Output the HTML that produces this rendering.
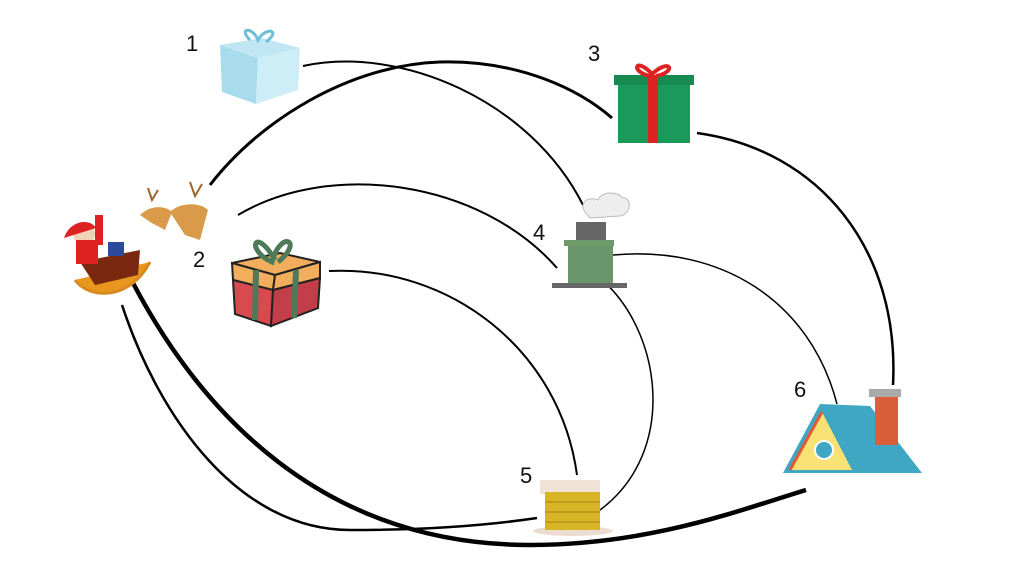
<!DOCTYPE html>
<html><head><meta charset="utf-8"><style>
html,body{margin:0;padding:0;background:#fff;}
svg{display:block;}
text{font-family:"Liberation Sans",sans-serif;font-size:22px;fill:#111;}
</style></head><body>
<svg width="1024" height="576" viewBox="0 0 1024 576" xmlns="http://www.w3.org/2000/svg">
<g fill="none" stroke="#000" stroke-linecap="butt">
<path d="M303,66 C400,45 530,100 583,205" stroke-width="2"/>
<path d="M210,185 C260,120 350,65 440,62 C520,60 580,90 612,118" stroke-width="3"/>
<path d="M697,133 C820,150 900,250 893,385" stroke-width="2.5"/>
<path d="M238,215 C330,160 480,180 557,268" stroke-width="2"/>
<path d="M329,271 C450,265 560,350 577,475" stroke-width="2"/>
<path d="M613,255 C720,245 810,300 837,404" stroke-width="1.5"/>
<path d="M602,280 C660,330 680,450 600,510" stroke-width="1.5"/>
<path d="M122,305 C160,420 240,530 350,530 C450,530 510,522 537,518" stroke-width="2.5"/>
<path d="M133,283 C200,410 320,545 530,545 C650,545 740,510 806,490" stroke-width="4.5"/>
</g>
<text x="186" y="51">1</text>
<text x="193" y="267">2</text>
<text x="588" y="61">3</text>
<text x="533" y="240">4</text>
<text x="520" y="483">5</text>
<text x="794" y="397">6</text>
<!-- gift 1 -->
<g>
<polygon points="220,45 262,38 300,48 258,58" fill="#bfe6f2"/>
<polygon points="220,45 258,58 256,104 222,92" fill="#a8dcec"/>
<polygon points="258,58 300,48 298,90 256,104" fill="#cdeef7"/>
<path d="M250,40 C238,28 252,26 258,40 C266,26 282,30 266,42" fill="none" stroke="#6bbfd8" stroke-width="3"/>
</g>
<!-- gift 3 -->
<g>
<rect x="614" y="75" width="80" height="10" fill="#178a4f"/>
<rect x="618" y="85" width="72" height="58" fill="#1a9a5a"/>
<rect x="648" y="75" width="10" height="68" fill="#d22"/>
<path d="M653,75 C635,55 630,72 650,76 C670,56 678,72 656,76" fill="none" stroke="#d22" stroke-width="4"/>
</g>
<!-- gift 2 -->
<g stroke="#222" stroke-width="2">
<polygon points="232,263 280,253 320,262 275,275" fill="#f2ae5c"/>
<polygon points="232,263 275,275 273,290 233,280" fill="#f2ae5c"/>
<polygon points="275,275 320,262 320,278 273,290" fill="#f2ae5c"/>
<polygon points="233,280 273,290 271,326 235,314" fill="#d94a4f"/>
<polygon points="273,290 320,278 318,308 271,326" fill="#c23e48"/>
<path d="M256,270 L255,320 M296,270 L294,318" stroke="#4e7a5a" stroke-width="6"/>
<path d="M275,260 C255,225 245,250 272,262 C280,230 305,240 278,262" fill="none" stroke="#4e7a5a" stroke-width="5"/>
</g>
<!-- chimney 4 -->
<g>
<path d="M585,212 C578,202 590,196 598,200 C602,190 620,192 622,198 C632,196 632,214 620,216 L590,218 Z" fill="#eee" stroke="#bbb"/>
<rect x="576" y="222" width="30" height="18" fill="#666"/>
<rect x="564" y="240" width="50" height="6" fill="#6e9a6a"/>
<rect x="568" y="246" width="45" height="38" fill="#6b956a"/>
<rect x="552" y="283" width="75" height="5" fill="#666"/>
</g>
<!-- chimney 5 -->
<g>
<ellipse cx="573" cy="531" rx="40" ry="5" fill="#eadcd0"/>
<rect x="540" y="480" width="60" height="14" fill="#efe3d5"/>
<rect x="545" y="492" width="55" height="38" fill="#d8b427"/>
<path d="M545,502 H600 M545,512 H600 M545,522 H600" stroke="#b8941a" stroke-width="1.5"/>
</g>
<!-- house 6 -->
<g>
<polygon points="783,473 820,404 870,406 922,473" fill="#3fa6c4"/>
<polygon points="790,470 822,412 852,470" fill="#f7e273"/>
<path d="M790,470 L822,412" stroke="#e05a3a" stroke-width="3"/>
<circle cx="824" cy="450" r="9" fill="#3fa6c4" stroke="#fff" stroke-width="2"/>
<rect x="875" y="395" width="23" height="50" fill="#d95f3b"/>
<rect x="869" y="389" width="32" height="8" fill="#aaa"/>
</g>
<!-- sleigh -->
<g>
<path d="M75,280 C90,300 130,300 150,262" fill="#e8961e" stroke="#d88a20" stroke-width="3"/>
<path d="M80,262 L140,250 L138,275 L95,285 Z" fill="#7a2810"/>
<circle cx="84" cy="234" r="11" fill="#f3d0b8"/>
<path d="M64,238 C70,220 90,218 96,228 Z" fill="#d22"/>
<rect x="76" y="240" width="22" height="24" fill="#d22"/>
<rect x="95" y="215" width="8" height="30" fill="#d22"/>
<rect x="108" y="242" width="16" height="14" fill="#2b4a9a"/>
<path d="M140,215 C150,205 165,205 172,212 L165,230 L150,222 Z" fill="#d99a4a"/>
<path d="M170,212 C180,202 200,202 208,210 L200,240 L185,235 Z" fill="#d99a4a"/>
<path d="M148,188 L152,200 L158,190 M190,182 L195,196 L202,184" stroke="#a0642a" stroke-width="2" fill="none"/>
</g>
</svg>
</body></html>
